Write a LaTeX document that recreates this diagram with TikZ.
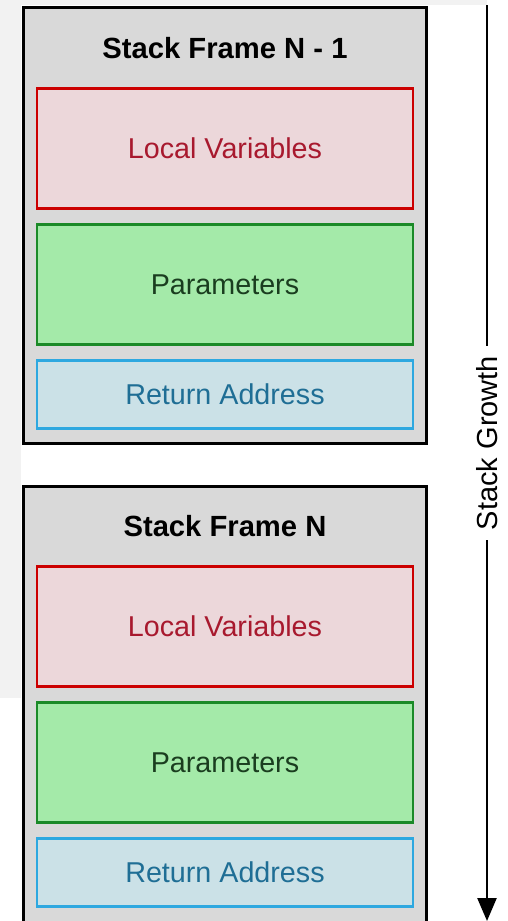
\documentclass[tikz,border=0pt]{standalone}
\usepackage{fontspec}
\setmainfont{Liberation Sans}
\usepackage{xcolor}
\usetikzlibrary{arrows.meta}

\definecolor{pagegray}{HTML}{F2F2F2}
\definecolor{framegray}{HTML}{D9D9D9}
\definecolor{lvred}{HTML}{CC0000}
\definecolor{lvfill}{HTML}{ECD7DA}
\definecolor{lvtext}{HTML}{A8192E}
\definecolor{pmgreen}{HTML}{1B8A28}
\definecolor{pmfill}{HTML}{A4EAA9}
\definecolor{pmtext}{HTML}{1A3D1F}
\definecolor{rablue}{HTML}{2EA8E0}
\definecolor{rafill}{HTML}{CBE1E7}
\definecolor{ratext}{HTML}{1F6E95}

\begin{document}
\begin{tikzpicture}[
  x=1pt,y=-1pt,
  frame/.style={draw=black,line width=3pt,fill=framegray,minimum width=403pt},
  ftitle/.style={font=\fontsize{29.2}{33}\selectfont\bfseries},
  slot/.style={line width=2.8pt,minimum width=376pt,font=\fontsize{28.7}{33}\selectfont},
  locals/.style={slot,draw=lvred,fill=lvfill,text=lvtext,minimum height=120pt},
  params/.style={slot,draw=pmgreen,fill=pmfill,text=pmtext,minimum height=120pt},
  retaddr/.style={slot,draw=rablue,fill=rafill,text=ratext,minimum height=68pt}
]
\clip (0,0) rectangle (508,921);
\fill[white] (0,0) rectangle (508,921);
% screenshot backdrop
\fill[pagegray] (0,0) rectangle (487,5);
\fill[pagegray] (0,0) rectangle (21,698);

% frame N-1
\node[frame,minimum height=436pt] (f1) at (225,225.5) {};
\node[ftitle] (t1) at (225,48) {Stack Frame N - 1};
\node[locals]  (lv1) at (225,148.5) {Local Variables};
\node[params]  (pm1) at (225,284.5) {Parameters};
\node[retaddr] (ra1) at (225,394.5) {Return Address};

% frame N
\node[frame,minimum height=480pt] (f2) at (225,726.5) {};
\node[ftitle] (t2) at (225,526) {Stack Frame N};
\node[locals]  (lv2) at (225,626.5) {Local Variables};
\node[params]  (pm2) at (225,762.5) {Parameters};
\node[retaddr] (ra2) at (225,872.5) {Return Address};

% growth arrow
\coordinate (gtop) at (487,5);
\coordinate (gbot) at (487,921);
\node[rotate=90,inner xsep=10pt,inner ysep=0pt,font=\fontsize{29}{33}\selectfont] (growth) at (487,443) {Stack Growth};
\draw[line width=2.5pt] (gtop) -- (growth.east);
\draw[line width=2.5pt,-{Triangle[width=19pt,length=23pt]}] (growth.west) -- (gbot);
\end{tikzpicture}
\end{document}
